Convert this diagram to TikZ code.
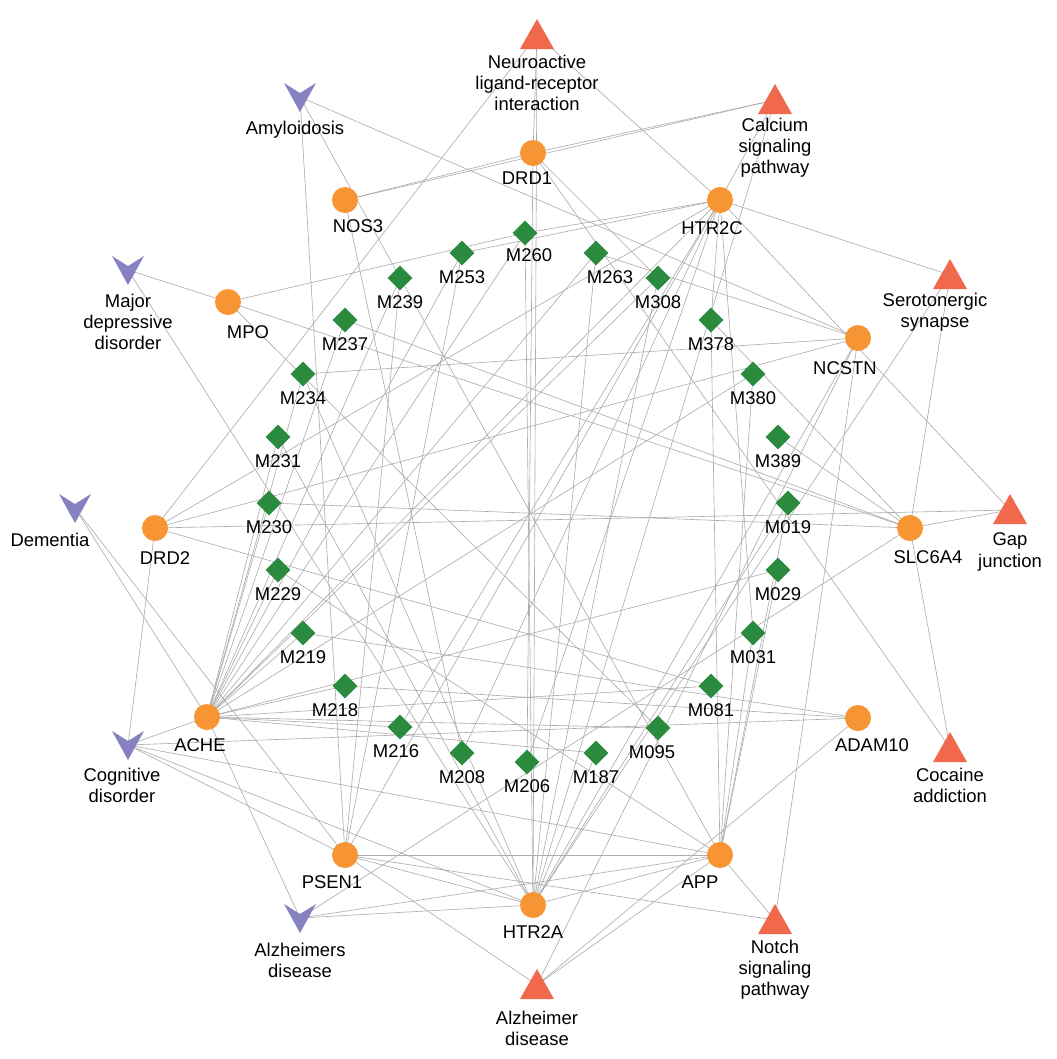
\documentclass[tikz,border=0pt]{standalone}
\usepackage{fontspec}
\setmainfont{Liberation Sans}
\usetikzlibrary{calc,shapes.geometric}
\definecolor{tri}{HTML}{F0694D}
\definecolor{vee}{HTML}{8682C2}
\definecolor{org}{HTML}{F79433}
\definecolor{grn}{HTML}{2A8A3E}
\begin{document}
\begin{tikzpicture}[x=0.02cm,y=-0.02cm,
 edge/.style={draw=gray!65,line width=0.35pt},
 lab/.style={font=\fontsize{10.5}{12}\selectfont,align=center,text=black},
 circ/.style={circle,fill=org,minimum size=0.52cm,inner sep=0pt},
 dia/.style={diamond,fill=grn,minimum size=0.5cm,inner sep=0pt}]
\fill[white] (0,0) rectangle (1057,1059);
\foreach \n/\x/\y in {neu/537/35,cal/775/100,ser/950/275,gap/1010/510,coc/950/748,notch/775/920,alz/537/985}
 \coordinate (\n) at (\x,\y);
\foreach \n/\x/\y in {amy/300/97,mdd/128/270,dem/75/508,cog/128/745,ad/300/918}
 \coordinate (\n) at (\x,\y);
\foreach \n/\x/\y in {DRD1/533/153,HTR2C/720/200,NCSTN/858/338,SLC6A4/910/528,ADAM10/858/718,APP/720/855,HTR2A/533/905,PSEN1/345/855,ACHE/207/717,DRD2/155/528,MPO/228/302,NOS3/345/200}
 \coordinate (\n) at (\x,\y);
\foreach \n/\x/\y in {M260/525/233,M263/596/253,M308/658/278,M378/711/320,M380/753/374,M389/778/437,M019/788/503,M029/778/570,M031/753/633,M081/711/686,M095/658/728,M187/596/753,M206/527/762,M208/462/753,M216/400/727,M218/345/686,M219/303/633,M229/278/570,M230/269/503,M231/278/437,M234/303/374,M237/345/320,M239/400/278,M253/462/253}
 \coordinate (\n) at (\x,\y);
\foreach \a/\b in {neu/DRD1,neu/HTR2A,neu/HTR2C,neu/DRD2,cal/DRD1,cal/HTR2C,cal/NOS3,cal/HTR2A,ser/HTR2C,ser/SLC6A4,ser/HTR2A,gap/DRD2,gap/HTR2C,gap/SLC6A4,coc/DRD1,coc/SLC6A4,notch/PSEN1,notch/NCSTN,notch/APP,alz/PSEN1,alz/APP,alz/NCSTN,alz/ADAM10,amy/PSEN1,amy/APP,amy/NCSTN,mdd/MPO,mdd/HTR2A,dem/ACHE,dem/PSEN1,cog/DRD2,cog/ACHE,cog/APP,cog/PSEN1,cog/HTR2A,cog/ADAM10,ad/ACHE,ad/APP,ad/HTR2A,ad/SLC6A4,
 M260/ACHE,M260/HTR2C,M260/HTR2A,M260/MPO,M263/ACHE,M263/HTR2A,M263/NCSTN,M308/ACHE,M308/HTR2A,M308/DRD1,M378/HTR2C,M378/APP,M378/SLC6A4,M380/ACHE,M380/APP,M389/SLC6A4,M019/APP,M019/HTR2A,M029/APP,M029/ACHE,M031/APP,M031/HTR2C,M081/ACHE,M081/DRD2,M095/ACHE,M095/MPO,M187/HTR2A,M187/ACHE,M206/HTR2C,M206/DRD1,M208/HTR2C,M208/NOS3,M216/ACHE,M216/HTR2C,M218/ACHE,M218/ADAM10,M219/ACHE,M219/ADAM10,M229/ACHE,M229/APP,M230/ACHE,M230/SLC6A4,M231/ACHE,M231/HTR2A,M234/ACHE,M234/NCSTN,M234/HTR2A,M237/ACHE,M237/SLC6A4,M239/ACHE,M239/PSEN1,M253/ACHE,M253/PSEN1,M253/HTR2C,
 NOS3/DRD1,DRD2/HTR2C,DRD2/NCSTN,PSEN1/APP,PSEN1/HTR2A,ACHE/HTR2C,MPO/SLC6A4,PSEN1/HTR2C,HTR2A/NCSTN,HTR2A/APP}
 \draw[edge] (\a) -- (\b);
\foreach \n in {neu,cal,ser,gap,coc,notch,alz}
 \fill[tri] ($(\n)+(0,-16)$) -- ++(17,30) -- ++(-34,0) -- cycle;
\foreach \n in {amy,mdd,dem,cog,ad}
 \fill[vee] ($(\n)+(-16,-14)$) -- ($(\n)+(0,-4)$) -- ($(\n)+(16,-14)$) -- ($(\n)+(0,15)$) -- cycle;
\foreach \n in {DRD1,HTR2C,NCSTN,SLC6A4,ADAM10,APP,HTR2A,PSEN1,ACHE,DRD2,MPO,NOS3}
 \node[circ] at (\n) {};
\foreach \n in {M260,M263,M308,M378,M380,M389,M019,M029,M031,M081,M095,M187,M206,M208,M216,M218,M219,M229,M230,M231,M234,M237,M239,M253}
 \node[dia] at (\n) {};
\path[every node/.style={lab}]
 (537,83) node {Neuroactive\\ligand-receptor\\interaction}
 (775,148) node {Calcium\\signaling\\pathway}
 (935,312) node {Serotonergic\\synapse}
 (1010,552) node {Gap\\junction}
 (950,785) node {Cocaine\\addiction}
 (775,970) node {Notch\\signaling\\pathway}
 (537,1028) node {Alzheimer\\disease}
 (295,130) node {Amyloidosis}
 (128,322) node {Major\\depressive\\disorder}
 (50,540) node {Dementia}
 (122,785) node {Cognitive\\disorder}
 (300,960) node {Alzheimers\\disease}
 (527,178) node {DRD1} (712,228) node {HTR2C} (845,368) node {NCSTN}
 (928,557) node {SLC6A4} (872,745) node {ADAM10} (700,882) node {APP}
 (533,932) node {HTR2A} (332,882) node {PSEN1} (200,745) node {ACHE}
 (165,558) node {DRD2} (248,332) node {MPO} (358,226) node {NOS3};
\foreach \n/\dx/\dy in {M260/4/22,M263/14/24,M308/0/24,M378/0/24,M380/0/24,M389/0/24,M019/0/24,M029/0/24,M031/0/24,M081/0/24,M095/-6/24,M187/0/24,M206/0/24,M208/0/24,M216/-4/24,M218/-10/24,M219/0/24,M229/0/24,M230/0/24,M231/0/24,M234/0/24,M237/0/24,M239/0/24,M253/0/24}
 \node[lab] at ($(\n)+(\dx,\dy)$) {\n};
\end{tikzpicture}
\end{document}
